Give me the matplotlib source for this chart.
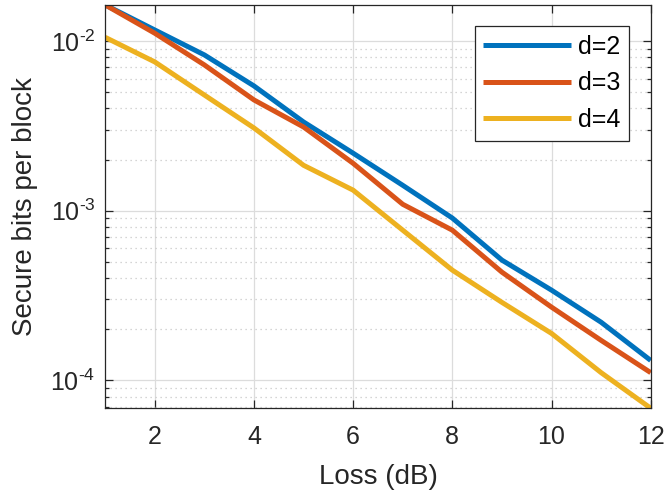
import numpy as np
import matplotlib
matplotlib.use("Agg")
import matplotlib.pyplot as plt
from matplotlib.ticker import LogLocator, NullFormatter, FuncFormatter

plt.rcParams['font.family'] = ['Liberation Sans', 'DejaVu Sans']
plt.rcParams['mathtext.fontset'] = 'custom'
plt.rcParams['mathtext.rm'] = 'Liberation Sans'
plt.rcParams['mathtext.it'] = 'Liberation Sans'

loss = [1, 2, 3, 4, 5, 6, 7, 8, 9, 10, 11, 12]
d2 = [0.0163, 0.0116, 0.00827, 0.00543, 0.00333, 0.00218, 0.00141, 0.000904,
      0.000511, 0.00034, 0.00022, 0.000131]
d3 = [0.0163, 0.0111, 0.00722, 0.00449, 0.00311, 0.0019, 0.00109, 0.000767,
      0.000434, 0.00027, 0.000172, 0.000111]
d4 = [0.0105, 0.00752, 0.0048, 0.00307, 0.00185, 0.00132, 0.000767, 0.000446,
      0.000288, 0.000189, 0.000111, 0.0000685]
labels = ['d=2', 'd=3', 'd=4']
colors = ['#0072BD', '#D95319', '#EDB120']

txt = '#262626'
fig = plt.figure(figsize=(6.66, 4.93), dpi=100)
ax = fig.add_axes([0.158, 0.172, 0.819, 0.818])

for ys, lab, c in zip([d2, d3, d4], labels, colors):
    ax.plot(loss, ys, color=c, lw=3.6, label=lab, solid_capstyle='butt')

ax.set_yscale('log')
ax.set_xlim(1, 12)
ax.set_ylim(min(d4), max(d2))
ax.set_xticks([2, 4, 6, 8, 10, 12])
ax.yaxis.set_major_locator(LogLocator(base=10, numticks=10))
ax.yaxis.set_minor_locator(LogLocator(base=10, subs=np.arange(2, 10), numticks=10))
ax.yaxis.set_minor_formatter(NullFormatter())


def pow_fmt(v, pos):
    e = int(round(np.log10(v)))
    return r'$\mathregular{10^{\text{-}%d}}$' % abs(e)


ax.yaxis.set_major_formatter(FuncFormatter(pow_fmt))

ax.grid(True, which='major', color='#dcdcdc', lw=0.9)
ax.grid(True, which='minor', axis='y', color='#c8c8c8', lw=0.9, ls=(0, (1, 3)))
ax.set_axisbelow(True)

ax.tick_params(which='both', direction='in', top=True, right=True,
               labelsize=18, colors=txt, width=0.9)
ax.tick_params(which='major', length=6)
ax.tick_params(which='minor', length=3)
ax.tick_params(axis='x', pad=12)
ax.tick_params(axis='y', pad=7)
for s in ax.spines.values():
    s.set_color(txt)
    s.set_linewidth(0.9)

ax.set_xlabel('Loss (dB)', fontsize=20, color=txt, labelpad=11)
ax.set_ylabel('Secure bits per block', fontsize=20, color=txt, labelpad=9)

leg = ax.legend(loc='upper right', fontsize=18, fancybox=False, framealpha=1,
                edgecolor=txt, handlelength=3.5, borderaxespad=0.85,
                labelspacing=0.5, handletextpad=0.3, borderpad=0.35)
leg.get_frame().set_linewidth(0.9)

fig.savefig('out.png', dpi=100)
